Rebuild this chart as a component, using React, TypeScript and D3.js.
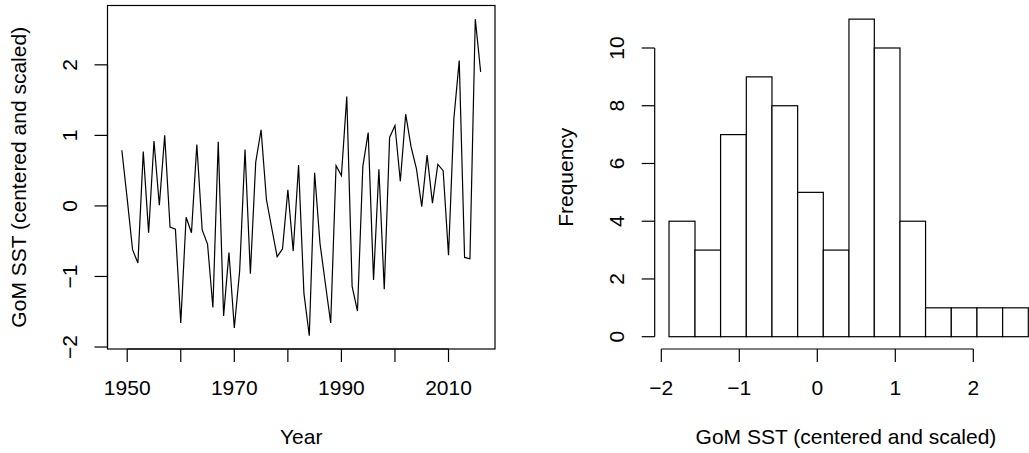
import React from 'react';
import * as d3 from 'd3';

const years = [1949, 1950, 1951, 1952, 1953, 1954, 1955, 1956, 1957, 1958, 1959, 1960, 1961, 1962, 1963, 1964, 1965, 1966, 1967, 1968, 1969, 1970, 1971, 1972, 1973, 1974, 1975, 1976, 1977, 1978, 1979, 1980, 1981, 1982, 1983, 1984, 1985, 1986, 1987, 1988, 1989, 1990, 1991, 1992, 1993, 1994, 1995, 1996, 1997, 1998, 1999, 2000, 2001, 2002, 2003, 2004, 2005, 2006, 2007, 2008, 2009, 2010, 2011, 2012, 2013, 2014, 2015, 2016];
const sst = [0.79, 0.10, -0.62, -0.81, 0.77, -0.38, 0.92, 0.01, 1.00, -0.30, -0.33, -1.66, -0.16, -0.38, 0.87, -0.34, -0.54, -1.44, 0.91, -1.56, -0.66, -1.73, -0.92, 0.80, -0.96, 0.62, 1.08, 0.09, -0.32, -0.72, -0.61, 0.23, -0.64, 0.58, -1.24, -1.84, 0.47, -0.53, -1.10, -1.66, 0.57, 0.43, 1.55, -1.14, -1.49, 0.56, 1.04, -1.05, 0.52, -1.18, 0.97, 1.14, 0.35, 1.30, 0.84, 0.53, -0.01, 0.72, 0.04, 0.59, 0.50, -0.70, 1.24, 2.06, -0.73, -0.75, 2.65, 1.90];

const yearTicks = [1950, 1960, 1970, 1980, 1990, 2000, 2010];
const yearLabels = [1950, 1970, 1990, 2010];
const sstTicks = [-2, -1, 0, 1, 2];

const histBreaks = [-1.901, -1.568, -1.240, -0.910, -0.581, -0.252, 0.077, 0.406, 0.731, 1.060, 1.388, 1.718, 2.047, 2.376, 2.705];
const histCounts = [4, 3, 7, 9, 8, 5, 3, 11, 10, 4, 1, 1, 1, 1];
const histXTicks = [-2, -1, 0, 1, 2];
const histYTicks = [0, 2, 4, 6, 8, 10];

const FONT = "'Liberation Sans', Arial, Helvetica, sans-serif";
const FS = 21;
const SW = 1.2;

export default function App() {
  // Left panel scales
  const L = { left: 107.5, right: 495, top: 5.5, bottom: 349 };
  const x1 = d3.scaleLinear().domain([1946.32, 2018.68]).range([L.left, L.right]);
  const y1 = d3.scaleLinear().domain([-2.028, 2.841]).range([L.bottom, L.top]);
  const line = d3.line<number>().x((_, i) => x1(years[i])).y((d) => y1(d));

  // Right panel scales
  const R = { left: 654.7, bottom: 349 };
  const x2 = d3.scaleLinear().domain([-2, 2]).range([661.3, 973.3]);
  const y2 = d3.scaleLinear().domain([0, 10]).range([336.7, 48]);

  const tickLen = 13;
  const fmt = (t: number) => (t < 0 ? `\u2212${Math.abs(t)}` : `${t}`);

  return (
    <svg
      width={1029}
      height={453}
      style={{ position: 'absolute', left: 0, top: 0, background: '#fff' }}
      fontFamily={FONT}
      fontSize={FS}
    >
      <rect x={0} y={0} width={1029} height={453} fill="#fff" />
      {/* Left panel */}
      <path d={line(sst) || ''} fill="none" stroke="#000" strokeWidth={SW} strokeLinejoin="miter" />
      <rect x={L.left} y={L.top} width={L.right - L.left} height={L.bottom - L.top} fill="none" stroke="#000" strokeWidth={SW} />
      {/* x axis */}
      <line x1={x1(yearTicks[0])} x2={x1(yearTicks[yearTicks.length - 1])} y1={L.bottom} y2={L.bottom} stroke="#000" strokeWidth={SW} />
      {yearTicks.map((t) => (
        <line key={t} x1={x1(t)} x2={x1(t)} y1={L.bottom} y2={L.bottom + tickLen} stroke="#000" strokeWidth={SW} />
      ))}
      {yearLabels.map((t) => (
        <text key={t} x={x1(t)} y={395} textAnchor="middle">{t}</text>
      ))}
      {/* y axis */}
      <line x1={L.left} x2={L.left} y1={y1(-2)} y2={y1(2)} stroke="#000" strokeWidth={SW} />
      {sstTicks.map((t) => (
        <line key={t} x1={L.left - tickLen} x2={L.left} y1={y1(t)} y2={y1(t)} stroke="#000" strokeWidth={SW} />
      ))}
      {sstTicks.map((t) => (
        <text key={t} transform={`translate(${L.left - 31},${y1(t)}) rotate(-90)`} textAnchor="middle">
          {fmt(t)}
        </text>
      ))}
      <text x={(L.left + L.right) / 2} y={444} textAnchor="middle">Year</text>
      <text transform={`translate(25.5,${(L.top + L.bottom) / 2}) rotate(-90)`} textAnchor="middle">
        GoM SST (centered and scaled)
      </text>

      {/* Right panel: histogram */}
      {histCounts.map((c, i) => (
        <rect
          key={i}
          x={x2(histBreaks[i])}
          y={y2(c)}
          width={x2(histBreaks[i + 1]) - x2(histBreaks[i])}
          height={y2(0) - y2(c)}
          fill="#fff"
          stroke="#000"
          strokeWidth={SW}
        />
      ))}
      {/* x axis */}
      <line x1={x2(histXTicks[0])} x2={x2(histXTicks[histXTicks.length - 1])} y1={R.bottom} y2={R.bottom} stroke="#000" strokeWidth={SW} />
      {histXTicks.map((t) => (
        <line key={t} x1={x2(t)} x2={x2(t)} y1={R.bottom} y2={R.bottom + tickLen} stroke="#000" strokeWidth={SW} />
      ))}
      {histXTicks.map((t) => (
        <text key={t} x={x2(t)} y={395} textAnchor="middle">{fmt(t)}</text>
      ))}
      {/* y axis */}
      <line x1={R.left} x2={R.left} y1={y2(0)} y2={y2(10)} stroke="#000" strokeWidth={SW} />
      {histYTicks.map((t) => (
        <line key={t} x1={R.left - tickLen} x2={R.left} y1={y2(t)} y2={y2(t)} stroke="#000" strokeWidth={SW} />
      ))}
      {histYTicks.map((t) => (
        <text key={t} transform={`translate(${R.left - 31},${y2(t)}) rotate(-90)`} textAnchor="middle">{t}</text>
      ))}
      <text x={846} y={444} textAnchor="middle">GoM SST (centered and scaled)</text>
      <text transform={`translate(572.5,${(5.5 + 349) / 2}) rotate(-90)`} textAnchor="middle">Frequency</text>
    </svg>
  );
}
